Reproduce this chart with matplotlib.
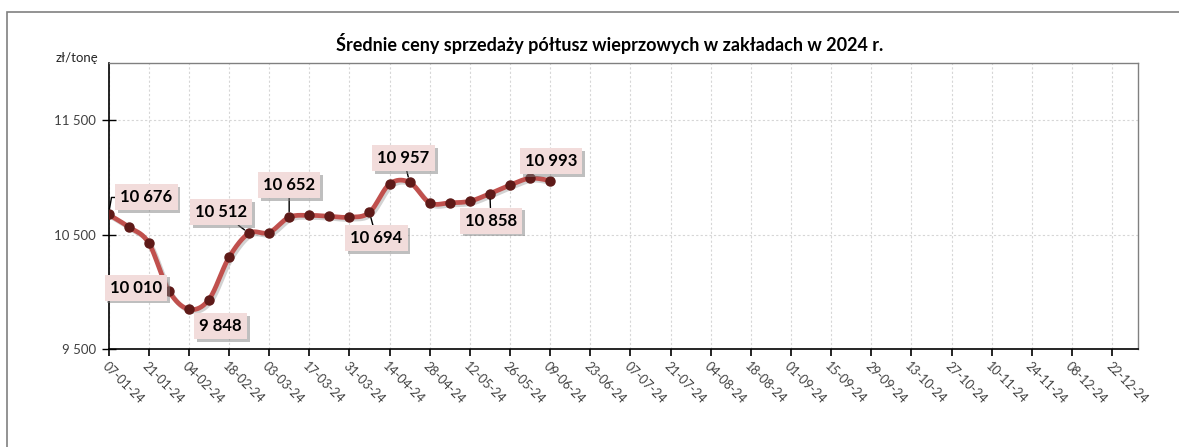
# Srednie ceny sprzedazy poltusz wieprzowych - wykres liniowy 2024
import numpy as np
import pandas as pd
import matplotlib
matplotlib.use('Agg')
from matplotlib import pyplot as plt
import matplotlib.dates as mdates
import matplotlib.patheffects as pe
from matplotlib.patches import Rectangle

# dane tygodniowe (zl/tone)
dates = ['2024-01-07', '2024-01-14', '2024-01-21', '2024-01-28', '2024-02-04',
         '2024-02-11', '2024-02-18', '2024-02-25', '2024-03-03', '2024-03-10',
         '2024-03-17', '2024-03-24', '2024-03-31', '2024-04-07', '2024-04-14',
         '2024-04-21', '2024-04-28', '2024-05-05', '2024-05-12', '2024-05-19',
         '2024-05-26', '2024-06-02', '2024-06-09']
prices = [10676, 10568, 10428, 10010, 9848, 9932, 10300, 10512, 10518, 10652,
          10668, 10660, 10652, 10694, 10942, 10957, 10778, 10778, 10792, 10858,
          10932, 10993, 10972]

tick_dates = ['2024-01-07', '2024-01-21', '2024-02-04', '2024-02-18', '2024-03-03',
              '2024-03-17', '2024-03-31', '2024-04-14', '2024-04-28', '2024-05-12',
              '2024-05-26', '2024-06-09', '2024-06-23', '2024-07-07', '2024-07-21',
              '2024-08-04', '2024-08-18', '2024-09-01', '2024-09-15', '2024-09-29',
              '2024-10-13', '2024-10-27', '2024-11-10', '2024-11-24', '2024-12-08',
              '2024-12-22']
y_ticks = [9500, 10500, 11500]

# indeksy punktow z etykietami i przesuniecia etykiet (px), czy linia odniesienia
labels = {0: (38, 17, True), 3: (-33, 3, False), 4: (32, -17, False),
          7: (-28, 21, True), 9: (0, 32, True), 13: (7, -26, True),
          15: (-6, 24, True), 19: (1, -27, True), 21: (21, 17, False)}

title = 'Średnie ceny sprzedaży półtusz wieprzowych w zakładach w 2024 r.'
font = 'Lato'
line_col = '#C0504D'
mark_col = '#5E1A18'
box_col = '#F2DCDB'

x = mdates.date2num(pd.to_datetime(dates))
y = np.array(prices, dtype=float)


def smooth(xs, ys, n=20):
    # wygladzanie jak w Excelu (bezier, styczne (p[i+1]-p[i-1])/6)
    px = np.concatenate([[xs[0]], xs, [xs[-1]]])
    py = np.concatenate([[ys[0]], ys, [ys[-1]]])
    ox, oy = [], []
    t = np.linspace(0, 1, n)
    for i in range(1, len(px) - 2):
        p0 = np.array([px[i], py[i]])
        p3 = np.array([px[i + 1], py[i + 1]])
        p1 = p0 + (np.array([px[i + 1], py[i + 1]]) - np.array([px[i - 1], py[i - 1]])) / 6
        p2 = p3 - (np.array([px[i + 2], py[i + 2]]) - np.array([px[i], py[i]])) / 6
        b = ((1 - t) ** 3)[:, None] * p0 + (3 * (1 - t) ** 2 * t)[:, None] * p1 \
            + (3 * (1 - t) * t ** 2)[:, None] * p2 + (t ** 3)[:, None] * p3
        ox.extend(b[:, 0])
        oy.extend(b[:, 1])
    return np.array(ox), np.array(oy)


fig = plt.figure(figsize=(11.79, 4.47), dpi=100)
ax = fig.add_axes([108.5 / 1179, 1 - 349 / 447, (1138 - 108.5) / 1179, (349 - 63) / 447])

# ramka calego wykresu
fig.patches.append(Rectangle((6.5 / 1179, -0.2), 1.2, 1.2 - 12 / 447, transform=fig.transFigure,
                             fill=False, edgecolor='#808080', lw=1.2))

sx, sy = smooth(x, y)
ax.plot(sx, sy, color=line_col, lw=3.4, solid_capstyle='round', zorder=3,
        path_effects=[pe.SimpleLineShadow(offset=(1.5, -1.5), shadow_color='grey', alpha=0.35), pe.Normal()])
ax.plot(x, y, 'o', ms=6.5, color=mark_col, mec=mark_col, zorder=4)

ax.set_xlim(mdates.date2num(pd.Timestamp('2024-01-07')), mdates.date2num(pd.Timestamp('2024-12-31')))
ax.set_ylim(9500, 12000)

tx = mdates.date2num(pd.to_datetime(tick_dates))
ax.set_xticks(tx)
ax.set_xticklabels([pd.Timestamp(d).strftime('%d-%m-%y') for d in tick_dates],
                   rotation=-45, ha='left', va='top', rotation_mode='anchor',
                   fontsize=9, color='#404040', family=font)
ax.set_yticks(y_ticks)
ax.set_yticklabels([f'{v:,}'.replace(',', ' ') for v in y_ticks], fontsize=9.5,
                   color='#404040', family=font)
ax.tick_params(axis='x', direction='out', length=5, width=1.2, pad=3)
ax.tick_params(axis='y', direction='inout', length=10, width=1, pad=4)

ax.grid(True, color='#D6D6D6', ls=(0, (2, 2)), lw=0.8)
ax.set_axisbelow(True)
for s in ['left', 'bottom']:
    ax.spines[s].set_color('black')
    ax.spines[s].set_linewidth(1.2)
for s in ['top', 'right']:
    ax.spines[s].set_color('#808080')
    ax.spines[s].set_linewidth(1)

fig.text(98 / 1179, 1 - 58 / 447, 'zł/tonę', ha='right', va='center', fontsize=9.5,
         color='#262626', family=font)
fig.text(610 / 1179, 1 - 44 / 447, title, ha='center', va='center', fontsize=13,
         fontweight='bold', color='black', family=font)

for i, (dx, dy, lead) in labels.items():
    txt = f'{prices[i]:,}'.replace(',', ' ')
    arrow = None
    if lead:
        arrow = dict(arrowstyle='-', color='black', lw=1, shrinkA=0, shrinkB=4)
        if i == 0:
            arrow['connectionstyle'] = 'angle,angleA=0,angleB=80,rad=0'
    a = ax.annotate(txt, (x[i], y[i]), xytext=(dx, dy), textcoords='offset pixels',
                    ha='center', va='center', fontsize=12, fontweight='bold', family=font,
                    color='black', zorder=6, arrowprops=arrow,
                    bbox=dict(boxstyle='square,pad=0.3', fc=box_col, ec='none'))
    a.get_bbox_patch().set_path_effects([
        pe.withSimplePatchShadow(offset=(2, -2), shadow_rgbFace='#808080', alpha=0.5),
        pe.Normal()])

fig.savefig('out.png', dpi=100)
